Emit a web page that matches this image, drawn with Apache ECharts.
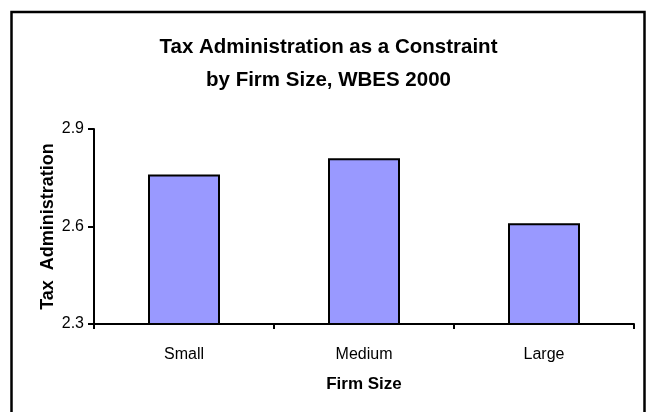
<!DOCTYPE html>
<html>
<head>
<meta charset="utf-8">
<script src="https://cdn.jsdelivr.net/npm/echarts@6/dist/echarts.min.js"></script>
<style>
  html, body { margin: 0; padding: 0; background: #ffffff; }
  #chart { width: 647px; height: 412px; }
</style>
</head>
<body>
<div id="chart"></div>
<script>
// Mean rating of tax administration as a business constraint, by firm size
const categories = ['Small', 'Medium', 'Large'];
const taxAdminScores = [2.76, 2.81, 2.61];
const yTicks = [2.3, 2.6, 2.9];

const chart = echarts.init(document.getElementById('chart'), null, { renderer: 'canvas' });
const FONT = '"Liberation Sans", Arial, sans-serif';

chart.setOption({
  backgroundColor: '#ffffff',
  animation: false,
  title: {
    text: 'Tax Administration as a Constraint\nby Firm Size, WBES 2000',
    left: 328.5,
    textAlign: 'center',
    top: 31,
    padding: 0,
    textStyle: {
      fontFamily: FONT,
      fontSize: 20.5,
      fontWeight: 'bold',
      color: '#000000',
      lineHeight: 33
    }
  },
  graphic: [{
    type: 'rect',
    shape: { x: 11.5, y: 12, width: 633, height: 410 },
    style: { fill: 'none', stroke: '#000000', lineWidth: 2.5 },
    silent: true
  }],
  grid: { left: 94, right: 13, top: 129, bottom: 88 },
  xAxis: {
    type: 'category',
    data: categories,
    name: 'Firm Size',
    nameLocation: 'middle',
    nameGap: 52,
    nameTextStyle: { fontFamily: FONT, fontSize: 17, fontWeight: 'bold', color: '#000' },
    axisLine: { lineStyle: { color: '#000', width: 2 } },
    axisTick: { show: true, length: 5, lineStyle: { color: '#000', width: 2 } },
    axisLabel: { fontFamily: FONT, fontSize: 16, color: '#000', margin: 23 }
  },
  yAxis: {
    type: 'value',
    min: yTicks[0],
    max: yTicks[yTicks.length - 1],
    interval: 0.3,
    name: 'Tax  Administration',
    nameLocation: 'middle',
    nameGap: 37,
    nameMoveOverlap: false,
    nameRotate: 90,
    nameTextStyle: { fontFamily: FONT, fontSize: 18, fontWeight: 'bold', color: '#000' },
    axisLine: { show: true, lineStyle: { color: '#000', width: 2 } },
    axisTick: { show: true, length: 6, lineStyle: { color: '#000', width: 2 } },
    axisLabel: {
      fontFamily: FONT, fontSize: 16, color: '#000', margin: 10,
      formatter: v => v.toFixed(1)
    },
    splitLine: { show: false }
  },
  series: [{
    type: 'bar',
    data: taxAdminScores,
    barWidth: '40%',
    itemStyle: { color: '#9999FF', borderColor: '#000000', borderWidth: 2 }
  }]
});
</script>
</body>
</html>
